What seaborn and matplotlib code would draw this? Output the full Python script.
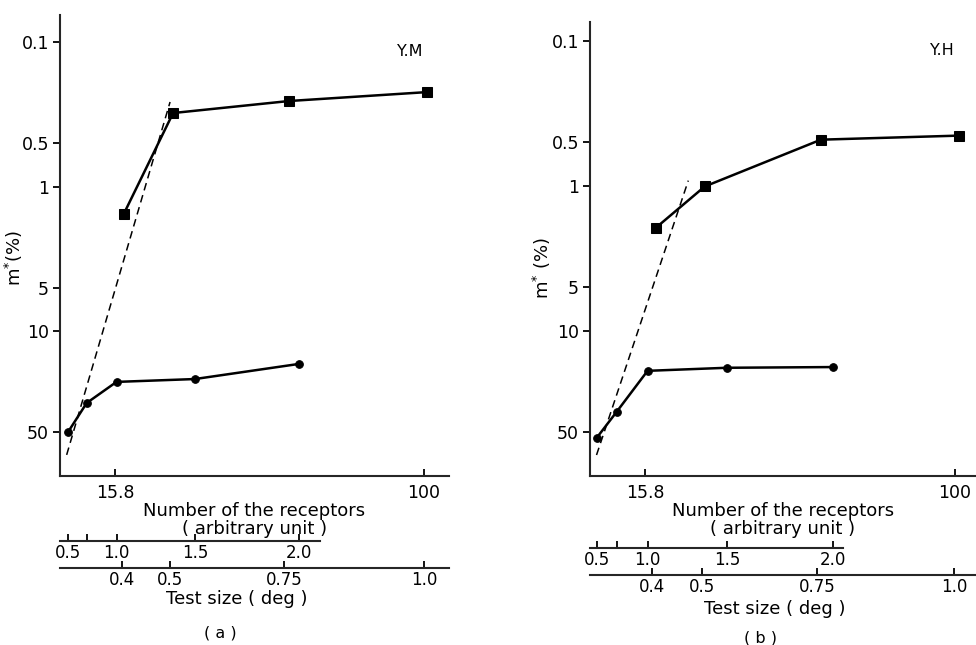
import matplotlib
matplotlib.use("Agg")
import matplotlib.pyplot as plt
from matplotlib.ticker import NullLocator, FixedLocator, FixedFormatter
import seaborn as sns

# ---------------- data ----------------
# y axis: m* (%) on an inverted log scale
y_ticks = [0.1, 0.5, 1, 5, 10, 50]
y_tick_labels = ["0.1", "0.5", "1", "5", "10", "50"]

# main x axis: number of receptors (log scale)
x_main_ticks = [15.8, 100]
x_main_labels = ["15.8", "100"]

# secondary scales (tick value expressed in number of receptors)
arb_labels = ["0.5", "", "1.0", "1.5", "2.0"]
arb_receptors_a = [11.9, 13.3, 15.9, 25.4, 47.3]
arb_receptors_b = [11.8, 13.3, 16.0, 25.7, 48.3]
test_labels = ["0.4", "0.5", "0.75", "1.0"]
test_receptors_a = [16.4, 21.9, 43.3, 100]
test_receptors_b = [16.4, 22.1, 44.0, 99.5]

# panel (a)  Y.M
sq_x_a = [16.6, 22.3, 44.6, 102]
sq_y_a = [1.55, 0.31, 0.256, 0.222]
ci_x_a = [11.9, 13.3, 15.9, 25.4, 47.3]
ci_y_a = [50, 31.5, 22.5, 21.5, 16.9]
da_x_a = [11.8, 21.9]
da_y_a = [72, 0.26]

# panel (b)  Y.H
sq_x_b = [16.8, 22.5, 45.0, 102.6]
sq_y_b = [1.95, 1.01, 0.48, 0.45]
ci_x_b = [11.8, 13.3, 16.0, 25.7, 48.3]
ci_y_b = [55, 36.3, 18.9, 18.0, 17.8]
da_x_b = [11.8, 20.4]
da_y_b = [72, 0.92]

# ---------------- figure ----------------
sns.set_theme(style="ticks")
plt.rcParams["font.family"] = ["DejaVu Sans"]
plt.rcParams["axes.linewidth"] = 1.5

W, H = 976, 645
fig = plt.figure(figsize=(W / 100, H / 100), dpi=100)


def box(l, t, r, b):
    return [l / W, 1 - b / H, (r - l) / W, (b - t) / H]


def strip(ax):
    for s in ["top", "right"]:
        ax.spines[s].set_visible(False)


panels = [
    dict(box=(60, 15, 449, 476), xlim=(11.34, 116.1), ylim=(100.8, 0.065),
         sq=(sq_x_a, sq_y_a), ci=(ci_x_a, ci_y_a), da=(da_x_a, da_y_a),
         arb=arb_receptors_a, test=test_receptors_a, arb_y=541, test_y=568,
         arb_end=53.7, name="Y.M", name_xy=(0.90, 0.92), ylab="m$^{*}$(%)",
         ylab_xy=(-0.09, 0.473), test_lab_x=0.455, test_lab_y=-22.0,
         tag="( a )", tag_xy=(220, 633)),
    dict(box=(590, 22, 976, 476), xlim=(11.35, 113.5), ylim=(100.5, 0.074),
         sq=(sq_x_b, sq_y_b), ci=(ci_x_b, ci_y_b), da=(da_x_b, da_y_b),
         arb=arb_receptors_b, test=test_receptors_b, arb_y=548, test_y=575,
         arb_end=51.3, name="Y.H", name_xy=(0.912, 0.938), ylab="m$^{*}$ (%)",
         ylab_xy=(-0.096, 0.458), test_lab_x=0.479, test_lab_y=-25.0,
         tag="( b )", tag_xy=(760, 638)),
]

for p in panels:
    l, t, r, b = p["box"]
    ax = fig.add_axes(box(l, t, r, b))
    ax.set_xscale("log")
    ax.set_yscale("log")

    sns.lineplot(x=p["da"][0], y=p["da"][1], ax=ax, color="black",
                 linewidth=1.1, linestyle=(0, (5, 3.2)))
    sns.lineplot(x=p["sq"][0], y=p["sq"][1], ax=ax, color="black",
                 linewidth=1.8, marker="s", markersize=6.5,
                 markeredgecolor="black", markerfacecolor="black")
    sns.lineplot(x=p["ci"][0], y=p["ci"][1], ax=ax, color="black",
                 linewidth=1.8, marker="o", markersize=5.5,
                 markeredgecolor="black", markerfacecolor="black")

    ax.set_xlim(p["xlim"])
    ax.set_ylim(p["ylim"])
    ax.yaxis.set_major_locator(FixedLocator(y_ticks))
    ax.yaxis.set_major_formatter(FixedFormatter(y_tick_labels))
    ax.xaxis.set_major_locator(FixedLocator(x_main_ticks))
    ax.xaxis.set_major_formatter(FixedFormatter(x_main_labels))
    ax.xaxis.set_minor_locator(NullLocator())
    ax.yaxis.set_minor_locator(NullLocator())
    strip(ax)
    ax.tick_params(axis="y", direction="out", length=5, width=1.3, pad=3,
                   labelsize=12.5, colors="black")
    ax.tick_params(axis="x", direction="in", length=5, width=1.3, pad=6,
                   labelsize=12.5, colors="black")
    ax.set_xlabel("Number of the receptors\n( arbitrary unit )", fontsize=13,
                  labelpad=0, linespacing=0.95, color="black")
    ax.set_ylabel(p["ylab"], fontsize=13, color="black")
    ax.yaxis.set_label_coords(*p["ylab_xy"])
    ax.text(*p["name_xy"], p["name"], transform=ax.transAxes, fontsize=11.5,
            ha="center", va="center", color="black")
    ax.set_facecolor("white")

    # secondary scales: arbitrary unit and test size
    for key, yline, labels, end in [("arb", p["arb_y"], arb_labels, p["arb_end"]),
                                    ("test", p["test_y"], test_labels, None)]:
        a2 = fig.add_axes(box(l, yline - 1, r, yline))
        a2.patch.set_visible(False)
        a2.set_xscale("log")
        a2.set_xlim(p["xlim"])
        for s in ["top", "right", "left"]:
            a2.spines[s].set_visible(False)
        a2.spines["bottom"].set_linewidth(1.5)
        a2.spines["bottom"].set_bounds(p["xlim"][0], end if end else p["xlim"][1])
        a2.set_yticks([])
        a2.xaxis.set_major_locator(FixedLocator(p[key]))
        a2.xaxis.set_major_formatter(FixedFormatter(labels))
        a2.xaxis.set_minor_locator(NullLocator())
        a2.tick_params(axis="x", direction="in", length=5, width=1.3, pad=2,
                       labelsize=12, colors="black")
        if key == "test":
            a2.set_xlabel("Test size ( deg )", fontsize=13, color="black")
            a2.xaxis.set_label_coords(p["test_lab_x"], p["test_lab_y"])

    fig.text(p["tag_xy"][0] / W, 1 - p["tag_xy"][1] / H, p["tag"], fontsize=11.5,
             ha="center", va="center", color="black")

fig.savefig("out.png", dpi=100, facecolor="white")
